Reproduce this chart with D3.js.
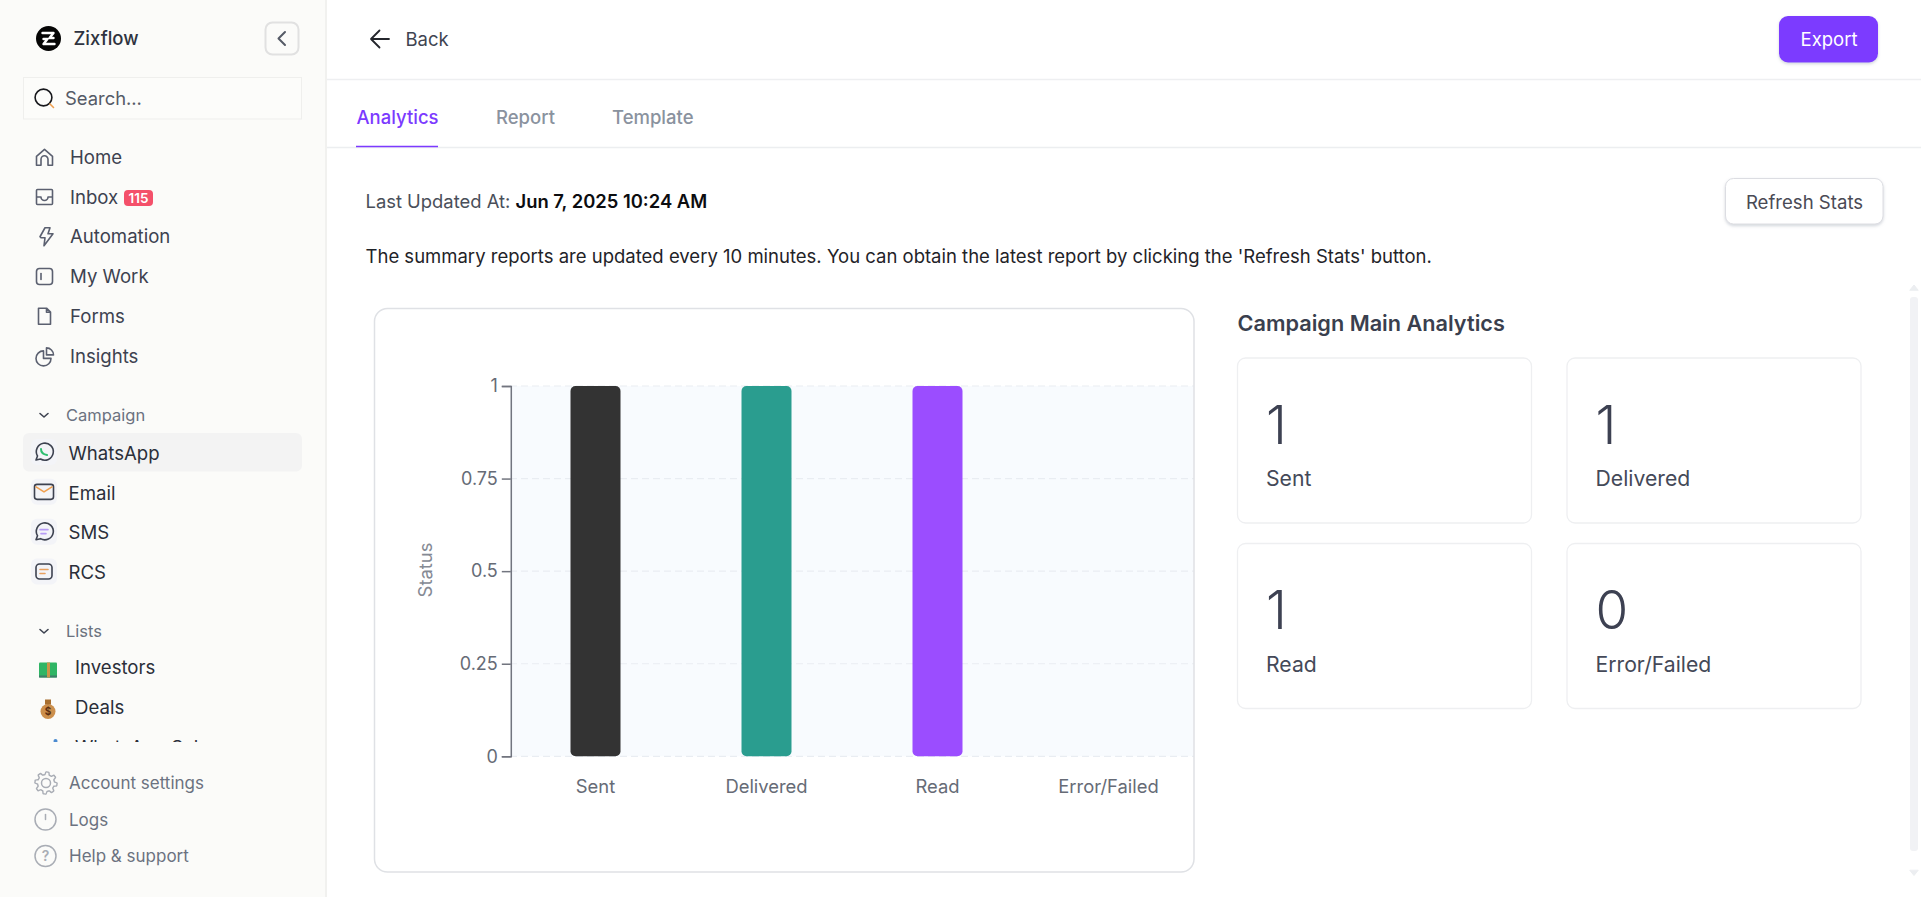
<!DOCTYPE html>
<html>
<head>
<meta charset="utf-8">
<title>Zixflow campaign analytics</title>
<script src="https://cdn.jsdelivr.net/npm/d3@7"></script>
<style>
  html, body { margin: 0; padding: 0; background: #fff; overflow: hidden; }
  svg { display: block; font-family: Inter, "Noto Sans", sans-serif; }
</style>
</head>
<body>
<div id="page"></div>
<script>
// chart data
const categories = ["Sent", "Delivered", "Read", "Error/Failed"];
const seriesValues = [1, 1, 1, 0];
const barColors = ["#333333", "#2a9d8f", "#9b4dff", "#e05252"];
const yTicks = [0, 0.25, 0.5, 0.75, 1];
const yLabel = "Status";

// page text
const navItems = ["Home", "Inbox", "Automation", "My Work", "Forms", "Insights"];
const campaignItems = ["WhatsApp", "Email", "SMS", "RCS"];
const listItems = ["Investors", "Deals", "WhatsApp Sal"];
const footerItems = ["Account settings", "Logs", "Help & support"];
const tabs = ["Analytics", "Report", "Template"];

const svg = d3.select("#page").append("svg")
  .attr("width", 1921)
  .attr("height", 897);

// small helper for the page text
function label(parent, x, y, str, size, color, weight) {
  return parent.append("text")
    .attr("x", x)
    .attr("y", y)
    .attr("dy", "0.36em")
    .attr("font-size", size)
    .attr("font-weight", weight || 400)
    .attr("fill", color)
    .text(str);
}

function icon(parent, x, y, d, color, width) {
  return parent.append("path")
    .attr("transform", "translate(" + x + "," + y + ")")
    .attr("d", d)
    .attr("fill", "none")
    .attr("stroke", color || "#5b6070")
    .attr("stroke-width", width || 1.6)
    .attr("stroke-linecap", "round")
    .attr("stroke-linejoin", "round");
}

/* ---------- sidebar ---------- */
const side = svg.append("g");
side.append("rect").attr("width", 325).attr("height", 897).attr("fill", "#fbfbf9");
side.append("rect").attr("x", 325).attr("width", 2).attr("height", 897).attr("fill", "#f1f1ef");

// logo
side.append("circle").attr("cx", 48.5).attr("cy", 38.5).attr("r", 12.5).attr("fill", "#050505");
icon(side, 48.5, 38.5, "M-6-5.500h11l-4 5h4M-5 .500h4l-4 5h11", "#fff", 2.4);
label(side, 73.5, 38.5, "Zixflow", 18.5, "#2f3340", 500);

// collapse button
side.append("rect").attr("x", 265.5).attr("y", 22.5).attr("width", 33).attr("height", 32).attr("rx", 7)
  .attr("fill", "#fbfbf9").attr("stroke", "#e1e1e1").attr("stroke-width", 2);
icon(side, 281, 38.5, "M4-6.500-2.500 0 4 6.500", "#555a66", 2);

// search box
side.append("rect").attr("x", 23.500).attr("y", 77.500).attr("width", 278).attr("height", 41.500)
  .attr("fill", "#fcfcfa").attr("stroke", "#efefed");
side.append("circle").attr("cx", 43.5).attr("cy", 97.5).attr("r", 8.4)
  .attr("fill", "none").attr("stroke", "#17181c").attr("stroke-width", 1.6);
icon(side, 50, 104, "M0 0l3.500 3.500", "#f0a050", 1.6);
label(side, 65, 98.500, "Search...", 18.4, "#555a66");

// main navigation
const navY = d3.scalePoint().domain(navItems).range([157.300, 355.900]);
navItems.forEach(function (d) {
  label(side, 70, navY(d), d, 18.6, "#3d4250", 430);
});
icon(side, 44.500, navY("Home"), "M-8 8v-9l8-7 8 7v9h-4.500v-6a3.500 3.500 0 0 0-7 0v6z");
icon(side, 44.500, navY("Inbox"), "M-7-7.500h14a1 1 0 0 1 1 1v13a1 1 0 0 1-1 1h-14a1 1 0 0 1-1-1v-13a1 1 0 0 1 1-1zM-8 0h4.500a3.500 3.500 0 0 0 7 0h4.500");
icon(side, 44, navY("Automation"), "M1-9h5l-2 6h5l-9 12 1-8h-4l-1-1z");
side.append("rect").attr("x", 36.500).attr("y", navY("My Work") - 8).attr("width", 16).attr("height", 16).attr("rx", 3)
  .attr("fill", "none").attr("stroke", "#5b6070").attr("stroke-width", 1.6);
icon(side, 41, navY("My Work"), "M0-3v6");
icon(side, 44.500, navY("Forms"), "M-6-8h8l4 4v12h-12zM2-8v4h4");
icon(side, 44.500, navY("Insights"), "M-1-5a7.500 7.500 0 1 0 7.500 7.500h-7.500zM2-8a7 7 0 0 1 7 7h-7z");

// inbox badge
side.append("rect").attr("x", 124).attr("y", 190).attr("width", 29).attr("height", 16).attr("rx", 4).attr("fill", "#f4506a");
label(side, 138.500, 198, "115", 13.5, "#fff", 600).attr("text-anchor", "middle");

// campaign group
icon(side, 44, 415, "M-4-1.500 0 2 4-1.500", "#3d4250", 1.6);
label(side, 66, 415, "Campaign", 16.5, "#6b7280");
side.append("rect").attr("x", 23).attr("y", 433).attr("width", 279).attr("height", 38.500).attr("rx", 6).attr("fill", "#f3f3f3");

const campaignY = d3.scalePoint().domain(campaignItems).range([453, 572.500]);
campaignItems.forEach(function (d) {
  side.append("rect").attr("x", 31).attr("y", campaignY(d) - 14).attr("width", 26).attr("height", 26).attr("rx", 6)
    .attr("fill", "#f3f4f8");
  label(side, 68.500, campaignY(d), d, 18.6, "#2b2f3a", 430);
});
icon(side, 44, campaignY("WhatsApp") - 1, "M-8 8l1.500-4a8.500 8.500 0 1 1 3 3z", "#3d4250");
icon(side, 44, campaignY("WhatsApp") - 1, "M-3-3q0 5 6 6", "#2fbf71", 2);
side.append("rect").attr("x", 34.500).attr("y", campaignY("Email") - 8.500).attr("width", 19).attr("height", 15).attr("rx", 2.500)
  .attr("fill", "none").attr("stroke", "#3d4250").attr("stroke-width", 1.6);
icon(side, 44, campaignY("Email") - 1, "M-8-5l8 5 8-5", "#f0a050");
icon(side, 44, campaignY("SMS") - 1, "M-8 8l1.500-4a8.500 8.500 0 1 1 3 3z", "#3d4250");
icon(side, 44, campaignY("SMS") - 1, "M-4-2h8M-3 2h5", "#b79cf5");
side.append("rect").attr("x", 36).attr("y", campaignY("RCS") - 8.500).attr("width", 16).attr("height", 15).attr("rx", 3.500)
  .attr("fill", "none").attr("stroke", "#3d4250").attr("stroke-width", 1.6);
icon(side, 44, campaignY("RCS") - 1, "M-4-2h8M-4 2h5", "#e9a15f");

// lists group
icon(side, 44, 631, "M-4-1.500 0 2 4-1.500", "#3d4250", 1.6);
label(side, 66, 631, "Lists", 16.5, "#6b7280");

const listClip = side.append("clipPath").attr("id", "list-clip");
listClip.append("rect").attr("x", 23).attr("y", 650).attr("width", 279).attr("height", 92);
const listGroup = side.append("g").attr("clip-path", "url(#list-clip)");
const listY = d3.scalePoint().domain(listItems).range([667.5, 747.5]);
listItems.forEach(function (d) {
  label(listGroup, 75, listY(d), d, 18.6, "#2b2f3a", 430);
});
// money emoji
listGroup.append("rect").attr("x", 39).attr("y", listY("Investors") - 5).attr("width", 18).attr("height", 15).attr("rx", 1).attr("fill", "#2fb565");
listGroup.append("rect").attr("x", 39).attr("y", listY("Investors") + 8).attr("width", 18).attr("height", 2).attr("fill", "#3f7d6a");
listGroup.append("rect").attr("x", 47).attr("y", listY("Investors") - 5).attr("width", 3).attr("height", 15).attr("fill", "#c9954a");
// bag emoji
listGroup.append("circle").attr("cx", 48).attr("cy", listY("Deals") + 4).attr("r", 7.500).attr("fill", "#cc8f4c");
listGroup.append("rect").attr("x", 45).attr("y", listY("Deals") - 8).attr("width", 6).attr("height", 5).attr("fill", "#a86f30");
label(listGroup, 48, listY("Deals") + 4, "$", 10, "#5a2d10", 700).attr("text-anchor", "middle");
listGroup.append("circle").attr("cx", 55.500).attr("cy", 741).attr("r", 2).attr("fill", "#4a8ad0");

// footer links
const footerY = d3.scalePoint().domain(footerItems).range([783, 856]);
footerItems.forEach(function (d) {
  label(side, 69, footerY(d), d, 17, "#6b7280");
});
const footColor = "#a9adb5";
// gear outline
const gearPoints = d3.range(48).map(function (i) {
  const toothOn = (i % 6) < 3;
  return [i * Math.PI / 24, toothOn ? 11 : 8.500];
});
side.append("path")
  .attr("transform", "translate(46," + footerY("Account settings") + ")")
  .attr("d", d3.lineRadial().curve(d3.curveCardinalClosed)(gearPoints))
  .attr("fill", "none").attr("stroke", footColor).attr("stroke-width", 1.4);
side.append("circle").attr("cx", 46).attr("cy", footerY("Account settings")).attr("r", 4.500)
  .attr("fill", "none").attr("stroke", footColor).attr("stroke-width", 1.5);
side.append("circle").attr("cx", 45.500).attr("cy", footerY("Logs")).attr("r", 10.500)
  .attr("fill", "none").attr("stroke", footColor).attr("stroke-width", 1.5);
icon(side, 45.500, footerY("Logs"), "M0-5v5", footColor, 1.5);
side.append("circle").attr("cx", 45.500).attr("cy", footerY("Help & support")).attr("r", 10.500)
  .attr("fill", "none").attr("stroke", footColor).attr("stroke-width", 1.5);
label(side, 45.500, footerY("Help & support"), "?", 14, footColor, 600).attr("text-anchor", "middle");

/* ---------- header and tabs ---------- */
const head = svg.append("g");
head.append("line").attr("x1", 327).attr("x2", 1921).attr("y1", 79.500).attr("y2", 79.500).attr("stroke", "#eeeff1").attr("stroke-width", 1.5);
head.append("line").attr("x1", 327).attr("x2", 1921).attr("y1", 147.500).attr("y2", 147.500).attr("stroke", "#eceef0").attr("stroke-width", 1.5);
icon(head, 371, 39, "M18 0H0M8.500-8.500 0 0l8.500 8.500", "#24262c", 1.8);
label(head, 405.500, 39.500, "Back", 18.5, "#3f4451");

const tabX = d3.scaleOrdinal().domain(tabs).range([356.500, 496, 612]);
tabs.forEach(function (d, i) {
  label(head, tabX(d), 117, d, 18.5, i === 0 ? "#7c3aff" : "#8a929e", 500);
});
head.append("line").attr("x1", 356).attr("x2", 438).attr("y1", 146.500).attr("y2", 146.500).attr("stroke", "#7c3aff").attr("stroke-width", 1.5);

// soft button shadow
const defs = svg.append("defs");
const shadow = defs.append("filter").attr("id", "btn-shadow").attr("x", "-10%").attr("y", "-20%").attr("width", "120%").attr("height", "150%");
shadow.append("feDropShadow").attr("dx", 0).attr("dy", 1.500).attr("stdDeviation", 1.500).attr("flood-color", "#9aa0b0").attr("flood-opacity", 0.45);

head.append("rect").attr("x", 1779).attr("y", 16).attr("width", 99).attr("height", 46.500).attr("rx", 9)
  .attr("fill", "#7c3aff").attr("filter", "url(#btn-shadow)");
label(head, 1829, 39.500, "Export", 18.5, "#fff", 400).attr("text-anchor", "middle");

const lastUpdated = head.append("text").attr("x", 365.500).attr("y", 201.500).attr("dy", "0.36em").attr("font-size", 18.4);
lastUpdated.append("tspan").attr("fill", "#4a4f5a").text("Last Updated At: ");
lastUpdated.append("tspan").attr("fill", "#0c0d10").attr("font-weight", 600).text("Jun 7, 2025 10:24 AM");

head.append("rect").attr("x", 1725.500).attr("y", 178.500).attr("width", 157.500).attr("height", 45.500).attr("rx", 8)
  .attr("fill", "#fff").attr("stroke", "#dcdde2").attr("filter", "url(#btn-shadow)");
label(head, 1804.500, 202.500, "Refresh Stats", 18.6, "#4a4a55").attr("text-anchor", "middle");

label(head, 365.500, 256, "The summary reports are updated every 10 minutes. You can obtain the latest report by clicking the 'Refresh Stats' button.", 18.5, "#1f2328");

// scroll bar
head.append("rect").attr("x", 1910).attr("y", 297).attr("width", 8).attr("height", 554).attr("rx", 3).attr("fill", "#f1f2f5");
icon(head, 1914, 287.500, "M-4 2.500 0-2.500 4 2.500z", "#eceef1", 1).attr("fill", "#eceef1");
icon(head, 1914, 873, "M-4-2.500 0 2.500 4-2.500z", "#eceef1", 1).attr("fill", "#eceef1");

/* ---------- bar chart ---------- */
const card = svg.append("g");
card.append("rect").attr("x", 374.500).attr("y", 308.500).attr("width", 819.500).attr("height", 563.500).attr("rx", 13)
  .attr("fill", "#fff");

const plot = { left: 510, right: 1194, top: 386, bottom: 756.300 };
const barWidth = 50;

const x = d3.scaleBand().domain(categories).range([plot.left, plot.right]);
const y = d3.scaleLinear().domain([d3.min(yTicks), d3.max(yTicks)]).range([plot.bottom, plot.top]);

// plot background
card.append("rect")
  .attr("x", plot.left)
  .attr("y", y(1))
  .attr("width", plot.right - plot.left)
  .attr("height", y(0) - y(1))
  .attr("fill", "#f8fbfe");

// dashed grid
card.selectAll(".grid")
  .data(yTicks)
  .enter()
  .append("line")
  .attr("class", "grid")
  .attr("x1", plot.left)
  .attr("x2", plot.right)
  .attr("y1", function (d) { return y(d); })
  .attr("y2", function (d) { return y(d); })
  .attr("stroke", "#e9edf2")
  .attr("stroke-width", 1.200)
  .attr("stroke-dasharray", "7 4");

// bars
card.selectAll(".bar")
  .data(categories)
  .enter()
  .append("rect")
  .attr("class", "bar")
  .attr("x", function (d) { return x(d) + x.bandwidth() / 2 - barWidth / 2; })
  .attr("y", function (d, i) { return y(seriesValues[i]); })
  .attr("width", barWidth)
  .attr("height", function (d, i) { return y(0) - y(seriesValues[i]); })
  .attr("rx", 5)
  .attr("fill", function (d, i) { return barColors[i]; });

// y axis
const yAxis = card.append("g")
  .attr("transform", "translate(" + (plot.left + 0.800) + ",0)")
  .call(d3.axisLeft(y).tickValues(yTicks).tickSize(9).tickPadding(4).tickFormat(function (d) { return d; }));
yAxis.select(".domain").attr("stroke", "#72757f").attr("stroke-width", 1.500);
yAxis.selectAll(".tick line").attr("stroke", "#72757f").attr("stroke-width", 1.500);
yAxis.selectAll("text").attr("font-size", 18).attr("font-family", "Inter").attr("fill", "#666b76");

// x axis labels only
const xAxis = card.append("g")
  .attr("transform", "translate(0," + plot.bottom + ")")
  .call(d3.axisBottom(x).tickSize(0).tickPadding(24));
xAxis.select(".domain").remove();
xAxis.selectAll("text").attr("font-size", 18.4).attr("font-family", "Inter").attr("fill", "#666b76");

// y axis title
card.append("text")
  .attr("transform", "translate(425,570) rotate(-90)")
  .attr("text-anchor", "middle")
  .attr("dy", "0.36em")
  .attr("font-size", 18.4)
  .attr("fill", "#858a94")
  .text(yLabel);

// card border on top of the plot fill
card.append("rect").attr("x", 374.500).attr("y", 308.500).attr("width", 819.500).attr("height", 563.500).attr("rx", 13)
  .attr("fill", "none").attr("stroke", "#dfe1e5").attr("stroke-width", 1.500);

/* ---------- stat cards ---------- */
const stats = svg.append("g");
label(stats, 1237.500, 323.500, "Campaign Main Analytics", 21.700, "#3a3f4e", 600);

const cardCol = d3.scaleOrdinal().domain([0, 1]).range([1237.500, 1567]);
const cardRow = d3.scaleOrdinal().domain([0, 1]).range([358, 543.500]);
categories.forEach(function (d, i) {
  const cx = cardCol(i % 2);
  const cy = cardRow(Math.floor(i / 2));
  stats.append("rect").attr("x", cx).attr("y", cy).attr("width", 294).attr("height", 165).attr("rx", 8)
    .attr("fill", "#fff").attr("stroke", "#eeeff1").attr("stroke-width", 1.300);
  label(stats, cx + 28.500, cy + 66.500, seriesValues[i], 53, "#3d4152", 340);
  label(stats, cx + 28.500, cy + 120.500, d, 21.200, "#444958");
});
</script>
</body>
</html>
